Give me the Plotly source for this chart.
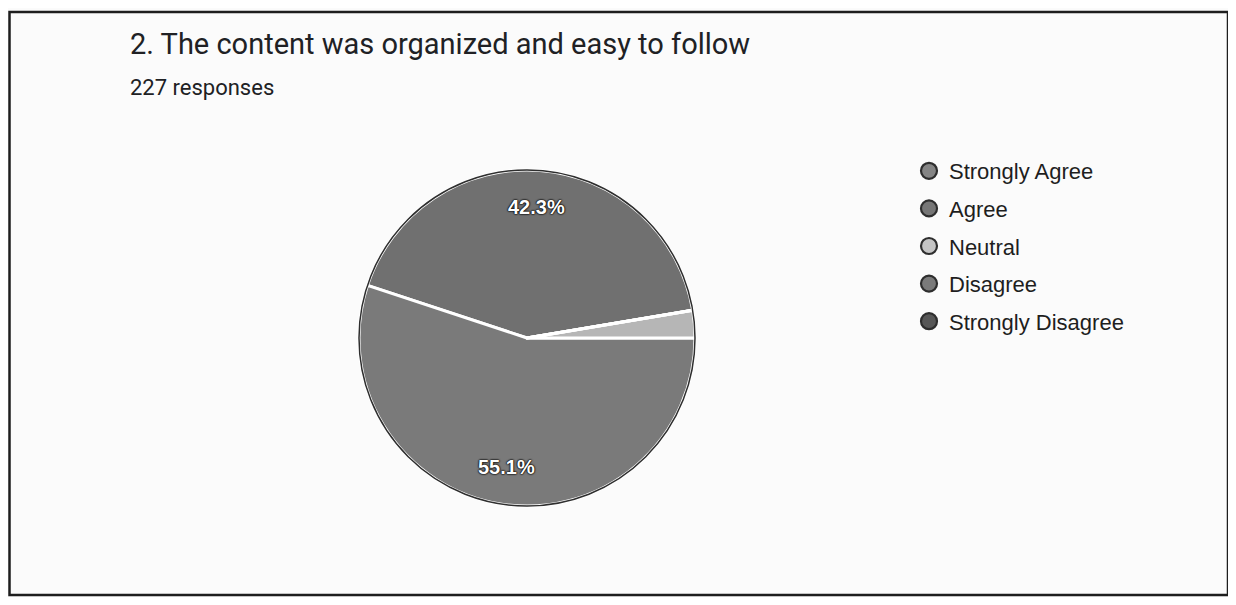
import math
import plotly.graph_objects as go

categories = ["Strongly Agree", "Agree", "Neutral", "Disagree", "Strongly Disagree"]
counts = [96, 125, 6, 0, 0]
slice_colors = ["#707070", "#7a7a7a", "#b6b6b6", "#7a7a7a", "#555555"]
legend_colors = ["#858585", "#767676", "#c4c4c4", "#7a7a7a", "#575757"]
title_text = "2. The content was organized and easy to follow"
subtitle_text = "227 responses"

# page has an 8px body margin; figure sized to sit inside the window
OFF = 8
W, H = 1222, 589


def px(X):
    return (X - OFF) / W


def py(Y):
    return (H - (Y - OFF)) / H


cx, cy, r = 527, 338, 168
rotation = -71.76

fig = go.Figure()
fig.add_trace(go.Pie(
    labels=categories,
    values=counts,
    sort=False,
    direction="counterclockwise",
    rotation=rotation,
    marker=dict(colors=slice_colors, line=dict(color="white", width=3)),
    textinfo="none",
    domain=dict(x=[px(cx - r), px(cx + r)], y=[py(cy + r), py(cy - r)]),
    showlegend=False,
    hoverinfo="label+percent",
))

# percentage labels placed at each slice's mid-angle (derived from counts)
# plotly ccw rule: slice 1 spans compass [rotation, rotation + v1]; later slices continue counterclockwise
total = sum(counts)
cur = rotation + 360 * counts[0] / total
for name, v in zip(categories, counts):
    frac = v / total
    if frac >= 0.05:
        mid_compass = cur - 360 * frac / 2
        a = math.radians(90 - mid_compass)
        lx = cx + 0.78 * r * math.cos(a)
        ly = cy - 0.78 * r * math.sin(a)
        fig.add_annotation(text=f"{frac * 100:.1f}%", x=px(lx), y=py(ly),
                           xref="paper", yref="paper", showarrow=False,
                           xanchor="center", yanchor="middle",
                           font=dict(family="Liberation Sans, Arial", size=20, color="white",
                                     weight="bold",
                                     shadow="0px 0px 2px #000, 0px 0px 2px #000, 0px 0px 1px #000"))
    cur -= 360 * frac

for name, col in zip(categories, legend_colors):
    fig.add_trace(go.Scatter(
        x=[None], y=[None], mode="markers", name=name, legendgroup=name,
        marker=dict(symbol="circle", size=17, color=col, line=dict(color="#2e2e2e", width=2.2)),
    ))

fig.add_shape(type="circle", xref="paper", yref="paper",
              x0=px(cx - r), x1=px(cx + r), y0=py(cy + r), y1=py(cy - r),
              line=dict(color="#2e2e2e", width=1.5), layer="above")
fig.add_shape(type="rect", xref="paper", yref="paper",
              x0=1.5 / W, x1=px(1228), y0=py(595), y1=py(12),
              line=dict(color="#1e1e1e", width=2.5))

fig.add_annotation(text=title_text, x=px(128), y=py(44), xref="paper", yref="paper",
                   xanchor="left", yanchor="middle", showarrow=False,
                   font=dict(family="Roboto", size=29, color="#202124"))
fig.add_annotation(text=subtitle_text, x=px(128), y=py(88), xref="paper", yref="paper",
                   xanchor="left", yanchor="middle", showarrow=False,
                   font=dict(family="Roboto", size=22, color="#202124"))

fig.update_layout(
    width=W, height=H,
    margin=dict(l=0, r=0, t=0, b=0),
    paper_bgcolor="#fbfbfb", plot_bgcolor="#fbfbfb",
    xaxis=dict(visible=False), yaxis=dict(visible=False),
    legend=dict(x=px(909), y=py(150), xanchor="left", yanchor="top",
                font=dict(family="Liberation Sans, Arial", size=22, color="#1e1e1e"),
                traceorder="grouped", tracegroupgap=6, bgcolor="rgba(0,0,0,0)"),
)

fig.write_html("out.html")
